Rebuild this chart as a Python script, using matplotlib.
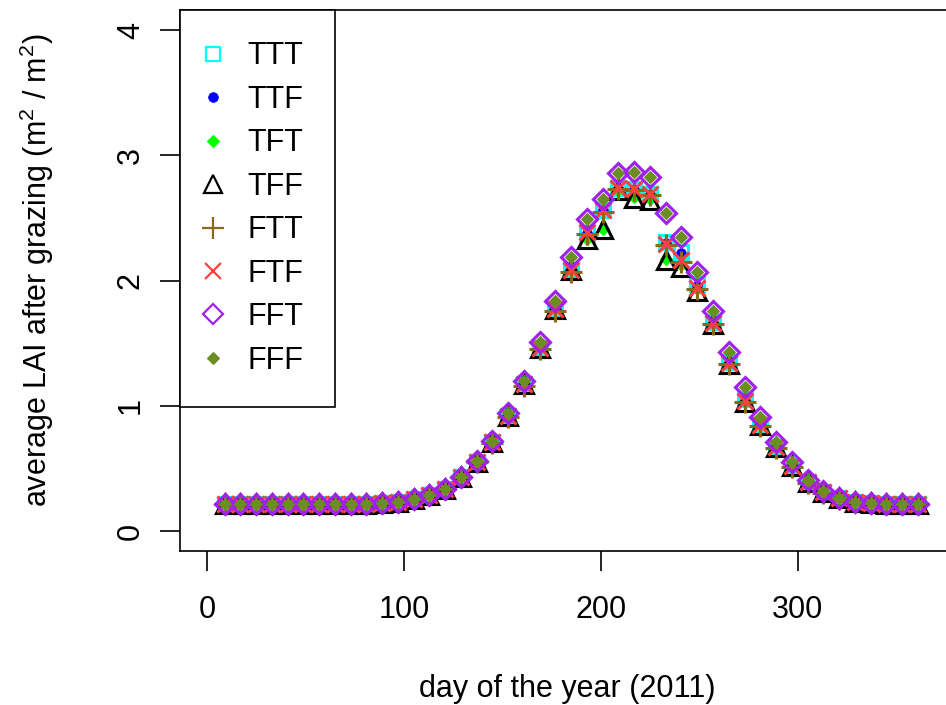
import matplotlib
matplotlib.use("Agg")
import matplotlib.pyplot as plt
from matplotlib.lines import Line2D

plt.rcParams['font.family'] = ['Liberation Sans', 'DejaVu Sans']
plt.rcParams['mathtext.fontset'] = 'custom'
plt.rcParams['mathtext.rm'] = 'Liberation Sans'
plt.rcParams['mathtext.it'] = 'Liberation Sans'

# --- data: 8-day composites, average LAI after grazing ---
days = [9, 17, 25, 33, 41, 49, 57, 65, 73, 81, 89, 97, 105, 113, 121,
        129, 137, 145, 153, 161, 169, 177, 185, 193, 201, 209, 217, 225, 233,
        241, 249, 257, 265, 273, 281, 289, 297, 305, 313, 321, 329, 337, 345,
        353, 361]

lai_ttt = [0.215, 0.215, 0.215, 0.215, 0.215, 0.215, 0.215, 0.215, 0.215,
           0.217, 0.222, 0.232, 0.253, 0.285, 0.332, 0.428, 0.552, 0.71,
           0.92, 1.17, 1.46, 1.77, 2.08, 2.38, 2.56, 2.74, 2.73, 2.69, 2.31,
           2.23, 1.97, 1.67, 1.35, 1.05, 0.85, 0.67, 0.52, 0.39, 0.31,
           0.26, 0.232, 0.22, 0.216, 0.215, 0.215]
lai_ttf = [0.215, 0.215, 0.215, 0.215, 0.215, 0.215, 0.215, 0.215, 0.215,
           0.217, 0.222, 0.232, 0.253, 0.285, 0.332, 0.428, 0.552, 0.71,
           0.92, 1.17, 1.46, 1.77, 2.08, 2.38, 2.56, 2.74, 2.73, 2.69, 2.30,
           2.22, 1.96, 1.66, 1.34, 1.04, 0.85, 0.67, 0.52, 0.39, 0.31,
           0.26, 0.232, 0.22, 0.216, 0.215, 0.215]
lai_tft = [0.215, 0.215, 0.215, 0.215, 0.215, 0.215, 0.215, 0.215, 0.215,
           0.217, 0.222, 0.232, 0.253, 0.285, 0.332, 0.428, 0.552, 0.71,
           0.92, 1.17, 1.46, 1.77, 2.08, 2.33, 2.41, 2.72, 2.67, 2.65, 2.17,
           2.12, 1.93, 1.66, 1.34, 1.04, 0.85, 0.67, 0.52, 0.39, 0.31,
           0.26, 0.232, 0.22, 0.216, 0.215, 0.215]
lai_tff = [0.215, 0.215, 0.215, 0.215, 0.215, 0.215, 0.215, 0.215, 0.215,
           0.217, 0.222, 0.232, 0.253, 0.285, 0.332, 0.428, 0.552, 0.71,
           0.92, 1.17, 1.46, 1.77, 2.08, 2.33, 2.41, 2.72, 2.66, 2.64, 2.16,
           2.11, 1.92, 1.65, 1.33, 1.03, 0.85, 0.67, 0.52, 0.39, 0.31,
           0.26, 0.232, 0.22, 0.216, 0.215, 0.215]
lai_ftt = [0.215, 0.215, 0.215, 0.215, 0.215, 0.215, 0.215, 0.215, 0.215,
           0.217, 0.222, 0.232, 0.253, 0.285, 0.332, 0.428, 0.552, 0.70,
           0.91, 1.16, 1.45, 1.76, 2.07, 2.37, 2.55, 2.73, 2.72, 2.68, 2.28,
           2.15, 1.93, 1.65, 1.33, 1.03, 0.84, 0.66, 0.51, 0.385, 0.305,
           0.258, 0.232, 0.22, 0.216, 0.215, 0.215]
lai_ftf = [0.215, 0.215, 0.215, 0.215, 0.215, 0.215, 0.215, 0.215, 0.215,
           0.217, 0.222, 0.232, 0.253, 0.285, 0.332, 0.428, 0.552, 0.71,
           0.92, 1.17, 1.46, 1.77, 2.08, 2.385, 2.56, 2.74, 2.73, 2.69, 2.29,
           2.16, 1.94, 1.66, 1.34, 1.04, 0.85, 0.67, 0.52, 0.39, 0.31,
           0.26, 0.232, 0.22, 0.216, 0.215, 0.215]
lai_fft = [0.215, 0.215, 0.215, 0.215, 0.215, 0.215, 0.215, 0.215, 0.215,
           0.217, 0.222, 0.233, 0.255, 0.287, 0.335, 0.433, 0.56, 0.72,
           0.94, 1.20, 1.51, 1.84, 2.19, 2.49, 2.65, 2.86, 2.87, 2.83, 2.54,
           2.35, 2.07, 1.76, 1.43, 1.15, 0.91, 0.71, 0.55, 0.41, 0.32,
           0.265, 0.235, 0.222, 0.217, 0.215, 0.215]
lai_fff = [0.215, 0.215, 0.215, 0.215, 0.215, 0.215, 0.215, 0.215, 0.215,
           0.217, 0.222, 0.233, 0.255, 0.287, 0.335, 0.433, 0.56, 0.72,
           0.94, 1.20, 1.51, 1.84, 2.19, 2.49, 2.65, 2.86, 2.87, 2.83, 2.54,
           2.35, 2.07, 1.76, 1.43, 1.15, 0.91, 0.71, 0.55, 0.41, 0.32,
           0.265, 0.235, 0.222, 0.217, 0.215, 0.215]

labels = ["TTT", "TTF", "TFT", "TFF", "FTT", "FTF", "FFT", "FFF"]
series = [lai_ttt, lai_ttf, lai_tft, lai_tff, lai_ftt, lai_ftf, lai_fft, lai_fff]

# marker, colour, size, filled, edge width (R pch 0, 20, 18, 2, 3, 4, 5, 18)
styles = [
    ("s", "#00FFFF", 10.5, False, 1.6),
    ("o", "#0000FF", 7.0, True, 0.5),
    ("D", "#00FF00", 6.4, True, 0.8),
    ("^", "#000000", 13.0, False, 1.6),
    ("+", "#8B6914", 15.5, False, 1.6),
    ("x", "#FF4040", 11.5, False, 1.6),
    ("D", "#A020F0", 10.2, False, 1.6),
    ("D", "#6B8E23", 6.4, True, 0.8),
]

FS = 22

# --- figure ---
fig = plt.figure(figsize=(9.46, 7.05), dpi=100)
W, H = 946, 705
ax = fig.add_axes([180 / W, (H - 551) / H, 774 / W, 541 / H])

handles = []
for vals, lab, (mk, col, ms, filled, mew) in zip(series, labels, styles):
    fc = col if filled else "none"
    plot_mew = mew * 1.4 if not filled else mew
    ax.plot(days, vals, linestyle="none", marker=mk, markersize=ms,
            markerfacecolor=fc, markeredgecolor=col, markeredgewidth=plot_mew)
    handles.append(Line2D([], [], linestyle="none", marker=mk, markersize=ms,
                          markerfacecolor=fc, markeredgecolor=col,
                          markeredgewidth=mew, label=lab))

ax.set_xlim(-13.7, 379.4)
ax.set_ylim(-0.16, 4.16)
ax.set_xticks([0, 100, 200, 300])
ax.set_yticks([0, 1, 2, 3, 4])

for sp in ax.spines.values():
    sp.set_linewidth(1.2)
    sp.set_color("black")

ax.tick_params(axis="both", direction="out", length=14.5, width=1.2,
               labelsize=FS, colors="black")
ax.tick_params(axis="x", pad=17)
ax.tick_params(axis="y", pad=10)
for t in ax.get_yticklabels():
    t.set_rotation(90)
    t.set_va("center")

ax.set_xlabel("day of the year (2011)", fontsize=FS)
ax.xaxis.set_label_coords(0.5, -0.2274)
ax.set_ylabel(r"average LAI after grazing $(\mathrm{m}^2\ /\ \mathrm{m}^2)$",
              fontsize=FS)
ax.yaxis.set_label_coords(-0.160, 0.52)

leg = ax.legend(handles=handles, loc="upper left", bbox_to_anchor=(0, 1),
                borderaxespad=0, fontsize=FS, frameon=True, fancybox=False,
                edgecolor="black", framealpha=1, labelspacing=0.44,
                handlelength=0.12, handletextpad=1.06, borderpad=1.03,
                numpoints=1)
leg.get_frame().set_linewidth(1.2)

fig.savefig("out.png", dpi=100)
